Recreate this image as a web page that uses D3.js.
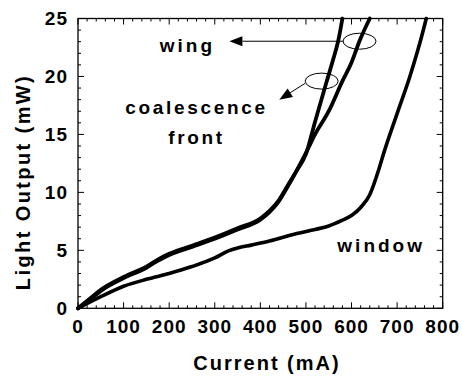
<!DOCTYPE html>
<html>
<head>
<meta charset="utf-8">
<script src="https://cdn.jsdelivr.net/npm/d3@7"></script>
<style>
  body { margin: 0; background: #fff; }
  text { font-family: "Liberation Sans", Arial, sans-serif; font-weight: bold; fill: #000; }
</style>
</head>
<body>
<div id="chart"></div>
<script>
// current (mA) / light output (mW)
const wingCurrent = [0, 25, 50, 100, 150, 175, 200, 250, 300, 350, 400, 420, 440, 460, 480, 500, 520, 545, 560, 571, 580];
const wingOutput  = [0, 0.8, 1.6, 2.7, 3.6, 4.2, 4.7, 5.4, 6.1, 6.9, 7.75, 8.4, 9.3, 10.6, 11.9, 13.3, 16.1, 19.5, 21.5, 23.1, 25];

const frontCurrent = [0, 25, 50, 100, 150, 175, 200, 250, 300, 350, 400, 420, 440, 460, 480, 500, 520, 550, 580, 600, 618, 640];
const frontOutput  = [0, 0.7, 1.5, 2.6, 3.5, 4.1, 4.6, 5.3, 6.0, 6.8, 7.65, 8.3, 9.2, 10.5, 11.9, 13.4, 15.0, 17.0, 19.6, 21.2, 23.1, 25];

const windowCurrent = [0, 50, 100, 150, 200, 250, 300, 330, 350, 380, 420, 480, 520, 550, 580, 600, 620, 640, 660, 670, 700, 728, 750, 764];
const windowOutput  = [0, 1.0, 1.9, 2.5, 3.0, 3.6, 4.35, 4.95, 5.2, 5.45, 5.8, 6.45, 6.8, 7.1, 7.6, 8.0, 8.7, 9.8, 12.0, 13.3, 16.8, 20.0, 22.9, 25];

const xTicks = [0, 100, 200, 300, 400, 500, 600, 700, 800];
const yTicks = [0, 5, 10, 15, 20, 25];

// annotation anchors in data units
const ellipses = [{ x: 617.5, y: 23.04 }, { x: 534.5, y: 19.6 }];
const arrows = [
  { x1: 582, y1: 23.04, x2: 332, y2: 23.04 },
  { x1: 498, y1: 19.4, x2: 441.5, y2: 18.0 }
];
const labels = [
  { text: "wing", x: 240, y: 22.1, ls: 3 },
  { text: "coalescence", x: 260, y: 16.8, ls: 2.7 },
  { text: "front", x: 260, y: 14.2, ls: 2.7 },
  { text: "window", x: 665, y: 4.83, ls: 3 }
];

const W = 462, H = 377;
const margin = { left: 78, top: 18.5, right: 19.3, bottom: 68.7 };

const svg = d3.select("#chart").append("svg")
  .attr("width", W)
  .attr("height", H);

const x = d3.scaleLinear().domain([0, 800]).range([margin.left, W - margin.right]);
const y = d3.scaleLinear().domain([0, 25]).range([H - margin.bottom, margin.top]);

// ticks (inward on all four sides)
const xMinor = d3.range(0, 801, 20);
const yMinor = d3.range(0, 26, 1);

function tickLen(major) { return major ? 6 : 3; }

const tickG = svg.append("g").attr("stroke", "#000").attr("stroke-width", 1);
xMinor.forEach(v => {
  const L = tickLen(v % 100 === 0);
  tickG.append("line").attr("x1", x(v)).attr("x2", x(v)).attr("y1", y(0)).attr("y2", y(0) - L);
  tickG.append("line").attr("x1", x(v)).attr("x2", x(v)).attr("y1", y(25)).attr("y2", y(25) + L);
});
yMinor.forEach(v => {
  const L = tickLen(v % 5 === 0);
  tickG.append("line").attr("x1", x(0)).attr("x2", x(0) + L).attr("y1", y(v)).attr("y2", y(v));
  tickG.append("line").attr("x1", x(800)).attr("x2", x(800) - L).attr("y1", y(v)).attr("y2", y(v));
});

svg.append("rect")
  .attr("x", x(0)).attr("y", y(25))
  .attr("width", x(800) - x(0)).attr("height", y(0) - y(25))
  .attr("fill", "none").attr("stroke", "#000").attr("stroke-width", 1.3);

// tick labels
svg.append("g").selectAll("text").data(xTicks).join("text")
  .attr("x", d => x(d)).attr("y", y(0) + 25)
  .attr("text-anchor", "middle")
  .attr("font-size", 19).attr("letter-spacing", 1)
  .text(d => d);

svg.append("g").selectAll("text").data(yTicks).join("text")
  .attr("x", x(0) - 10).attr("y", d => y(d))
  .attr("dy", "0.35em")
  .attr("text-anchor", "end")
  .attr("font-size", 19).attr("letter-spacing", 1)
  .text(d => d);

// axis titles
svg.append("text")
  .attr("x", 267).attr("y", 370)
  .attr("text-anchor", "middle")
  .attr("font-size", 20).attr("letter-spacing", 2)
  .text("Current (mA)");

svg.append("text")
  .attr("transform", "translate(30,182) rotate(-90)")
  .attr("text-anchor", "middle")
  .attr("font-size", 20).attr("letter-spacing", 2.4)
  .text("Light Output (mW)");

// curves
const line = d3.line()
  .x(d => x(d[0]))
  .y(d => y(d[1]))
  .curve(d3.curveMonotoneX);

const series = [
  { cur: windowCurrent, out: windowOutput, w: 3.6 },
  { cur: frontCurrent, out: frontOutput, w: 3.8 },
  { cur: wingCurrent, out: wingOutput, w: 3.8 }
];
series.forEach(s => {
  svg.append("path")
    .datum(d3.zip(s.cur, s.out))
    .attr("d", line)
    .attr("fill", "none")
    .attr("stroke", "#000")
    .attr("stroke-width", s.w)
    .attr("stroke-linejoin", "round")
    .attr("stroke-linecap", "round");
});

// annotations
svg.append("g").selectAll("ellipse").data(ellipses).join("ellipse")
  .attr("cx", d => x(d.x)).attr("cy", d => y(d.y))
  .attr("rx", 16.5).attr("ry", 8)
  .attr("fill", "none").attr("stroke", "#000").attr("stroke-width", 1);

arrows.forEach(a => {
  const x1 = x(a.x1), y1 = y(a.y1), x2 = x(a.x2), y2 = y(a.y2);
  const ang = Math.atan2(y2 - y1, x2 - x1);
  const hl = 13, hw = 5;
  const bx = x2 - hl * Math.cos(ang), by = y2 - hl * Math.sin(ang);
  svg.append("line")
    .attr("x1", x1).attr("y1", y1).attr("x2", bx).attr("y2", by)
    .attr("stroke", "#000").attr("stroke-width", 1);
  const px = -Math.sin(ang) * hw, py = Math.cos(ang) * hw;
  svg.append("path")
    .attr("d", `M${x2},${y2}L${bx + px},${by + py}L${bx - px},${by - py}Z`)
    .attr("fill", "#000");
});

svg.append("g").selectAll("text").data(labels).join("text")
  .attr("x", d => x(d.x)).attr("y", d => y(d.y))
  .attr("text-anchor", "middle")
  .attr("font-size", 19)
  .attr("letter-spacing", d => d.ls)
  .text(d => d.text);
</script>
</body>
</html>
